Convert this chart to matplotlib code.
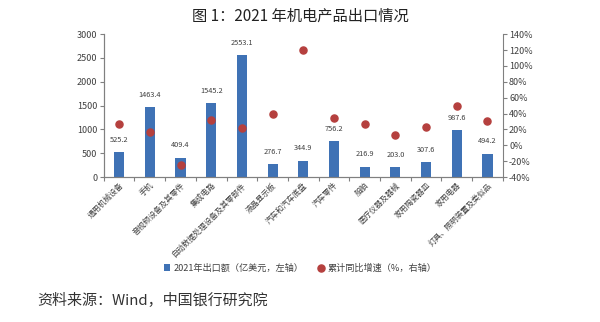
import numpy as np
import matplotlib.pyplot as plt
from matplotlib.ticker import FuncFormatter

plt.rcParams['font.family'] = ['Noto Sans CJK SC', 'DejaVu Sans']

categorias = ["通用机械设备", "手机", "音视频设备及其零件", "集成电路",
              "自动数据处理设备及其零部件", "液晶显示板", "汽车和汽车底盘",
              "汽车零件", "船舶", "医疗仪器及器械", "家用陶瓷器皿",
              "家用电器", "灯具、照明装置及类似品"]
exportacao = [525.2, 1463.4, 409.4, 1545.2, 2553.1, 276.7, 344.9,
              756.2, 216.9, 203.0, 307.6, 987.6, 494.2]
crescimento = [27, 17, -25, 32, 22, 39, 120, 34, 27, 13, 23, 50, 31]

COR_BARRA = "#3F72B5"
COR_PONTO = "#B5403E"
COR_TEXTO = "#404040"
COR_EIXO = "#808080"

fig = plt.figure(figsize=(6.0, 3.22), dpi=100)
ax1 = fig.add_axes([0.173, 0.450, 0.665, 0.444])
ax2 = ax1.twinx()

x = np.arange(len(categorias))
ax1.bar(x, exportacao, width=0.33, color=COR_BARRA, zorder=2,
        label="2021年出口额（亿美元，左轴）")
for xi, v in zip(x, exportacao):
    ax1.annotate(f"{v:.1f}", (xi, v), xytext=(0, 6), textcoords="offset points",
                 ha="center", va="bottom", fontsize=5.3, color=COR_TEXTO)

ax2.scatter(x, crescimento, s=26, color=COR_PONTO, zorder=3,
            label="累计同比增速（%，右轴）")

ax1.set_xlim(-0.5, len(categorias) - 0.5)
ax1.set_ylim(0, 3000)
ax1.set_yticks(range(0, 3001, 500))
ax2.set_ylim(-40, 140)
ax2.set_yticks(range(-40, 141, 20))
ax2.yaxis.set_major_formatter(FuncFormatter(lambda v, p: f"{v:.0f}%"))

# ticks de categoria nas fronteiras, rótulos no centro
ax1.set_xticks(np.arange(-0.5, len(categorias), 1.0))
ax1.set_xticklabels([])
ax1.set_xticks(x, minor=True)
ax1.set_xticklabels(categorias, minor=True, rotation=45, ha="right",
                    rotation_mode="anchor", fontsize=5.6, color=COR_TEXTO)
ax1.tick_params(axis="x", which="minor", length=0, pad=3)
ax1.tick_params(axis="x", which="major", length=3, color=COR_EIXO)
ax1.tick_params(axis="y", labelsize=6.5, length=3, color=COR_EIXO,
                labelcolor=COR_TEXTO, pad=1.5)
ax2.tick_params(axis="y", labelsize=6.5, length=3, color=COR_EIXO,
                labelcolor=COR_TEXTO, pad=1.5)

for ax in (ax1, ax2):
    ax.spines["top"].set_visible(False)
    for s in ("left", "right", "bottom"):
        ax.spines[s].set_color(COR_EIXO)
        ax.spines[s].set_linewidth(0.8)
ax1.spines["right"].set_visible(False)

fig.text(0.5, 0.950, "图 1：2021 年机电产品出口情况", ha="center", va="center",
         fontsize=11, color="#222222")

h1, l1 = ax1.get_legend_handles_labels()
h2, l2 = ax2.get_legend_handles_labels()
fig.legend(h1 + h2, l1 + l2, loc="center", bbox_to_anchor=(0.5, 0.168), ncol=2,
           frameon=False, fontsize=6.6, handlelength=0.7, handleheight=0.7,
           columnspacing=1.5, handletextpad=0.4, labelcolor=COR_TEXTO)

fig.text(0.062, 0.068, "资料来源：Wind，中国银行研究院", ha="left", va="center",
         fontsize=10.8, color="#333333")

fig.savefig("out.png", dpi=100, facecolor="white")
